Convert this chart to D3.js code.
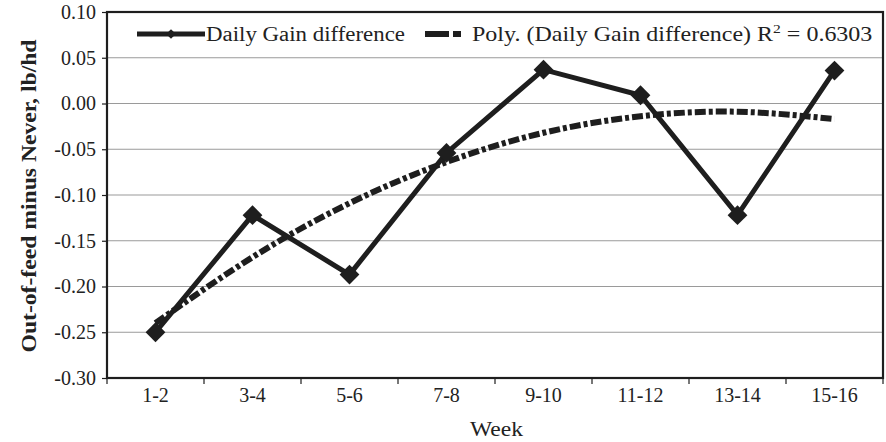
<!DOCTYPE html>
<html><head><meta charset="utf-8">
<script src="https://cdn.jsdelivr.net/npm/d3@7"></script>
<style>body{margin:0;background:#fff}svg{display:block}text{font-family:"Liberation Serif","Times New Roman",serif;fill:#222}</style>
</head><body><svg id="c" width="886" height="442"></svg>
<script>
const categories = ["1-2","3-4","5-6","7-8","9-10","11-12","13-14","15-16"];
const gainDiff = [-0.250,-0.122,-0.187,-0.054,0.037,0.009,-0.122,0.036];
const polyTrend = [-0.240,-0.168,-0.109,-0.064,-0.032,-0.014,-0.009,-0.017];
const yTicks = [0.10,0.05,0.00,-0.05,-0.10,-0.15,-0.20,-0.25,-0.30];
const seriesName = "Daily Gain difference";
const trendName = "Poly. (Daily Gain difference) R";
const rSquared = "0.6303";

const svg = d3.select("#c");
const L=107,R=883,T=12,B=378;
const x = d3.scaleBand().domain(categories).range([L,R]);
const y = d3.scaleLinear().domain([-0.30,0.10]).range([B,T]);
const ink="#1e1e1e";

// gridlines
svg.append("g").selectAll("line").data(yTicks).join("line")
  .attr("x1",L).attr("x2",R).attr("y1",d=>y(d)).attr("y2",d=>y(d))
  .attr("stroke","#9a9a9a").attr("stroke-width",1.2);

// y axis
const ya = svg.append("g").attr("transform",`translate(${L},0)`)
  .call(d3.axisLeft(y).tickValues(yTicks).tickFormat(d3.format(".2f")).tickSize(5).tickPadding(6));
ya.select(".domain").remove();
ya.selectAll("line").attr("stroke",ink).attr("stroke-width",1.2);
ya.selectAll("text").attr("font-size",20).style("font-family","Liberation Serif").attr("fill","#222")
  .text(d=>d3.format(".2f")(d).replace("−","-"));

// x axis
const xa = svg.append("g").attr("transform",`translate(0,${B})`)
  .call(d3.axisBottom(x).tickSize(0).tickPadding(10));
xa.select(".domain").remove();
xa.selectAll("text").attr("font-size",20).style("font-family","Liberation Serif").attr("fill","#222");
const bounds = categories.map(c=>x(c)).concat([R]);
svg.append("g").selectAll("line").data(bounds).join("line")
  .attr("x1",d=>d).attr("x2",d=>d).attr("y1",B).attr("y2",B+6)
  .attr("stroke",ink).attr("stroke-width",1.2);

// frame
svg.append("rect").attr("x",L).attr("y",T).attr("width",R-L).attr("height",B-T)
  .attr("fill","none").attr("stroke",ink).attr("stroke-width",2.2);

const cx = c=>x(c)+x.bandwidth()/2;

// trend line
svg.append("path").datum(polyTrend)
  .attr("d",d3.line().x((d,i)=>cx(categories[i])).y(d=>y(d)).curve(d3.curveNatural))
  .attr("fill","none").attr("stroke",ink).attr("stroke-width",6)
  .attr("stroke-dasharray","11,3,4,3");

// main line
svg.append("path").datum(gainDiff)
  .attr("d",d3.line().x((d,i)=>cx(categories[i])).y(d=>y(d)))
  .attr("fill","none").attr("stroke",ink).attr("stroke-width",5).attr("stroke-linejoin","miter");
const diamond = d3.symbol().type(d3.symbolDiamond2).size(250);
svg.append("g").selectAll("path").data(gainDiff).join("path")
  .attr("d",diamond).attr("transform",(d,i)=>`translate(${cx(categories[i])},${y(d)})`)
  .attr("fill",ink);

// legend
const lg = svg.append("g");
lg.append("line").attr("x1",137).attr("x2",205).attr("y1",34).attr("y2",34).attr("stroke",ink).attr("stroke-width",5);
lg.append("path").attr("d",d3.symbol().type(d3.symbolDiamond2).size(60)).attr("transform","translate(171,34)").attr("fill",ink);
lg.append("text").attr("x",206).attr("y",41).attr("font-size",20).attr("textLength",199).attr("lengthAdjust","spacingAndGlyphs").text(seriesName);
lg.append("line").attr("x1",425).attr("x2",468).attr("y1",34).attr("y2",34).attr("stroke",ink).attr("stroke-width",6).attr("stroke-dasharray","24,4,8,100");
const t2 = lg.append("text").attr("transform","translate(472,41) scale(1.2,1)").attr("font-size",20);
t2.append("tspan").text(trendName);
t2.append("tspan").attr("font-size",13).attr("dy",-8).text("2");
t2.append("tspan").attr("dy",8).text(" = "+rSquared);

// axis titles
svg.append("text").attr("transform","translate(36,196) rotate(-90)").attr("text-anchor","middle")
  .attr("font-size",20).attr("font-weight","bold").attr("textLength",313).attr("lengthAdjust","spacingAndGlyphs")
  .text("Out-of-feed minus Never, lb/hd");
svg.append("text").attr("x",470).attr("y",436).attr("font-size",20)
  .attr("textLength",53).attr("lengthAdjust","spacingAndGlyphs").text("Week");
</script></body></html>
